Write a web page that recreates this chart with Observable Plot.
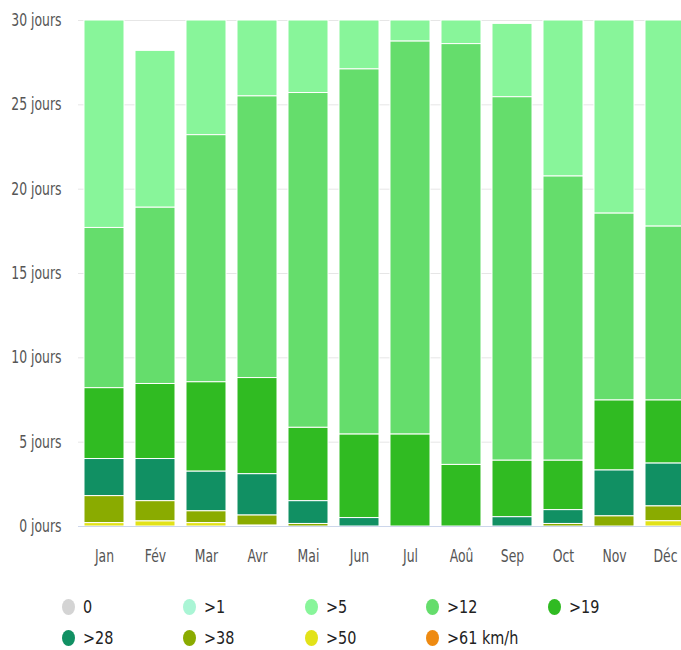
<!DOCTYPE html>
<html><head><meta charset="utf-8">
<script src="https://cdn.jsdelivr.net/npm/d3@7"></script>
<script src="https://cdn.jsdelivr.net/npm/@observablehq/plot@0.6"></script>
<style>
html,body{margin:0;padding:0;background:#fff;overflow:hidden;width:681px;height:650px;}
#chart{width:681px;height:570px;overflow:hidden;}
#legend{position:relative;height:80px;width:681px;font-family:"DejaVu Sans",sans-serif;font-size:18px;color:#222;}
.item{position:absolute;height:20px;}
.dot{position:absolute;left:0;top:2px;width:13px;height:16px;border-radius:50%;}
.lab{position:absolute;left:21px;top:0;line-height:20px;white-space:nowrap;transform:scaleX(0.8);transform-origin:0 50%;}
</style></head><body>
<div id="chart"></div>
<div id="legend"></div>
<script>
const months = ["Jan","Fév","Mar","Avr","Mai","Jun","Jul","Aoû","Sep","Oct","Nov","Déc"];
const categories = ["0", ">1", ">5", ">12", ">19", ">28", ">38", ">50", ">61 km/h"];
const colors = ["#d4d4d4", "#aaf5d5", "#88f59a", "#65dd6c", "#30bb22", "#119063", "#8aab00", "#e2e219", "#ee8a11"];
const yTicks = [0, 5, 10, 15, 20, 25, 30];

const v0   = [0, 0, 0, 0, 0, 0, 0, 0, 0, 0, 0, 0];
const v1   = [0, 0, 0, 0, 0, 0, 0, 0, 0, 0, 0, 0];
const v5   = [12.3, 9.3, 6.8, 4.5, 4.3, 2.9, 1.25, 1.4, 4.35, 9.25, 11.45, 12.22];
const v12  = [9.5, 10.45, 14.65, 16.7, 19.85, 21.65, 23.3, 24.95, 21.55, 16.85, 11.08, 10.31];
const v19  = [4.2, 4.45, 5.3, 5.7, 4.35, 4.95, 5.45, 3.65, 3.35, 2.93, 4.15, 3.74];
const v28  = [2.2, 2.5, 2.35, 2.45, 1.35, 0.5, 0, 0, 0.55, 0.82, 2.72, 2.54];
const v38  = [1.6, 1.2, 0.7, 0.6, 0.15, 0, 0, 0, 0, 0.15, 0.6, 0.88];
const v50  = [0.2, 0.3, 0.2, 0.05, 0, 0, 0, 0, 0, 0, 0, 0.31];
const v61  = [0, 0, 0, 0, 0, 0, 0, 0, 0, 0, 0, 0];

const series = [v0, v1, v5, v12, v19, v28, v38, v50, v61];
const data = [];
categories.forEach((c, i) => months.forEach((m, j) => data.push({month: m, cat: c, value: series[i][j]})));
const stackOrder = categories.slice().reverse();

const chart = Plot.plot({
  width: 681, height: 570,
  marginLeft: 78, marginRight: 0, marginTop: 20, marginBottom: 44,
  style: {fontFamily: '"DejaVu Sans",sans-serif', fontSize: "17px", color: "#555", background: "transparent"},
  x: {domain: months, range: [78, 691.4], paddingInner: 0.22, paddingOuter: 0.1, label: null, tickSize: 0, tickPadding: 23},
  y: {domain: [0, 30], ticks: yTicks, tickFormat: d => d + " jours", label: null, tickSize: 0, tickPadding: 17},
  color: {domain: categories, range: colors},
  marks: [
    Plot.gridY(yTicks, {stroke: "#e6e6e6", strokeOpacity: 1}),
    Plot.barY(data, {x: "month", y: "value", fill: "cat", order: stackOrder, stroke: "#fff", strokeWidth: 1}),
    Plot.ruleY([0], {stroke: "#ccd6eb"})
  ]
});
document.getElementById("chart").appendChild(chart);

// narrow the axis labels horizontally, as in the reference
d3.select(chart).selectAll('g[aria-label$="tick label"] text').each(function() {
  const len = this.getComputedTextLength();
  this.setAttribute("textLength", (len * 0.73).toFixed(1));
  this.setAttribute("lengthAdjust", "spacingAndGlyphs");
});

const legend = d3.select("#legend");
categories.forEach((c, i) => {
  const row = i < 5 ? 0 : 1;
  const col = i < 5 ? i : i - 5;
  const it = legend.append("div").attr("class", "item")
    .style("left", (61.5 + col * 121.5) + "px")
    .style("top", (row === 0 ? 27 : 58) + "px");
  it.append("div").attr("class", "dot").style("background", colors[i]);
  it.append("span").attr("class", "lab").text(c);
});
</script>
</body></html>
